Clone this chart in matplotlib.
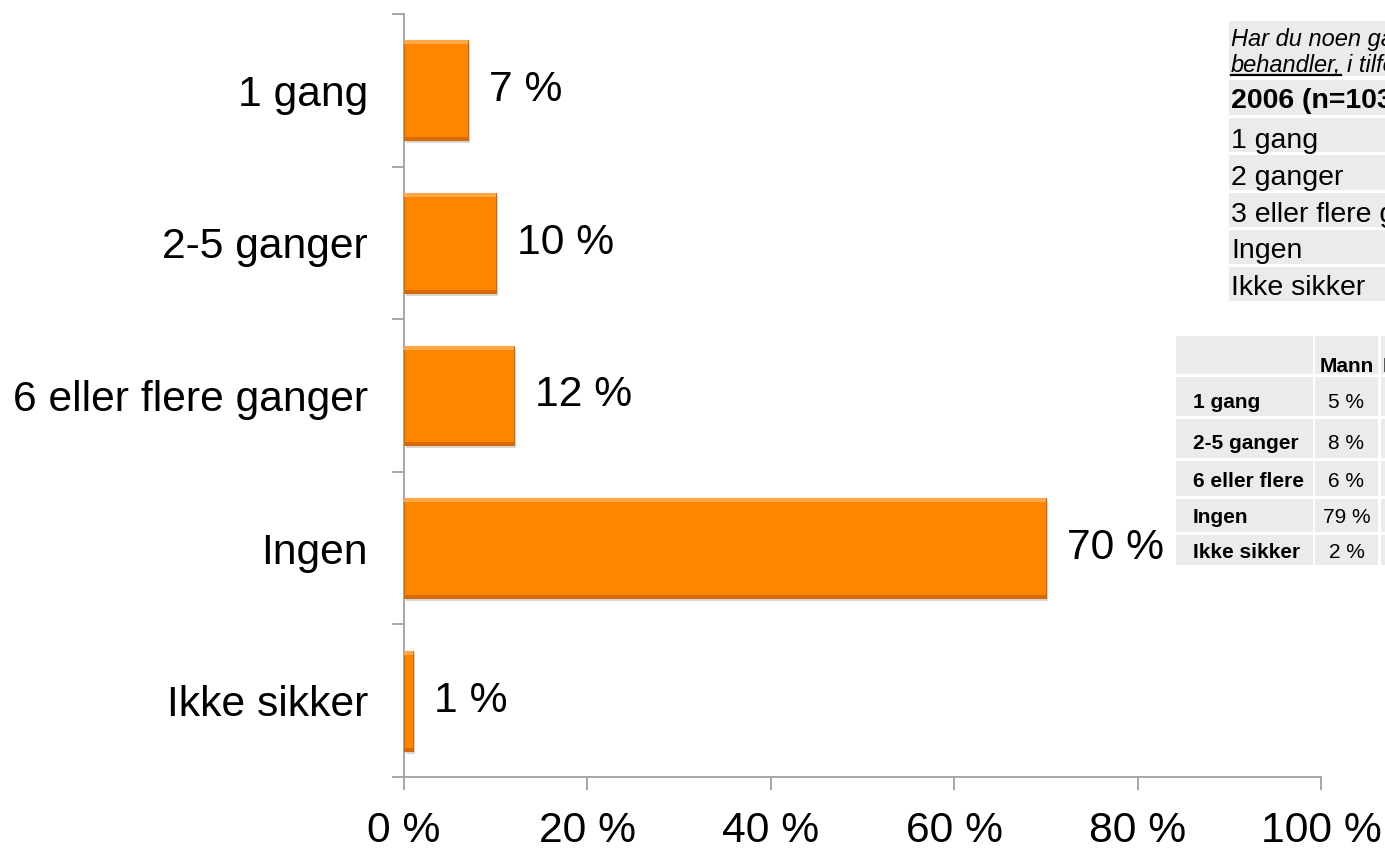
import matplotlib
matplotlib.use("Agg")
import matplotlib.pyplot as plt
from matplotlib.patches import Rectangle

# ---- data ----
categories = ["1 gang", "2-5 ganger", "6 eller flere ganger", "Ingen", "Ikke sikker"]
values = [7, 10, 12, 70, 1]
xticks = [0, 20, 40, 60, 80, 100]
xticklabels = ["0 %", "20 %", "40 %", "60 %", "80 %", "100 %"]

table1_title = ["Har du noen gang", "behandler,", "i tilfelle"]
table1_header = "2006 (n=1032)"
table1_rows = ["1 gang", "2 ganger", "3 eller flere ganger", "Ingen", "Ikke sikker"]

table2_cols = ["", "Mann", "Kvinne"]
table2_rows = ["1 gang", "2-5 ganger", "6 eller flere", "Ingen", "Ikke sikker"]
table2_mann = ["5 %", "8 %", "6 %", "79 %", "2 %"]

W, H = 1385, 849
plt.rcParams['font.family'] = ['Liberation Sans', 'DejaVu Sans']
fig = plt.figure(figsize=(W / 100, H / 100), dpi=100)
renderer = fig.canvas.get_renderer()

def fx(x):
    return x / W

def fy(y):
    return 1 - y / H

ax = fig.add_axes([fx(404), fy(777), (1321 - 404) / W, (777 - 14) / H])
ypos = list(range(len(categories)))
bar_h = 0.655
px_y = bar_h / 100.0  # data units per pixel (approx, bar is ~100 px tall)
bars = ax.barh(ypos, values, height=bar_h, color="#FF8500", edgecolor="#C96A10",
               linewidth=0.8, zorder=3)
for b in bars:
    x0, y0 = b.get_x(), b.get_y()
    w, h = b.get_width(), b.get_height()
    # ylim inverted: y0 is the visual top
    ax.add_patch(Rectangle((x0, y0), w, 4 * px_y, color="#FFA848", lw=0, zorder=4))
    ax.add_patch(Rectangle((x0, y0 + h - 3 * px_y), w, 3 * px_y, color="#D96A00", lw=0, zorder=4))
    # soft shadow
    ax.add_patch(Rectangle((x0 + 0.25, y0 + 3 * px_y), w, h, color="#D8D8D8", lw=0, zorder=2))

lab_fs = 30.7
for i, v in enumerate(values):
    ax.annotate(f"{v} %", xy=(v, i), xytext=(15, 0), textcoords="offset points",
                va="center", ha="left", fontsize=lab_fs, color="black")

ax.set_xlim(0, 100)
ax.set_ylim(len(categories) - 0.5, -0.5)
ax.set_xticks(xticks)
ax.set_xticklabels(xticklabels, fontsize=lab_fs)
ax.set_yticks([i - 0.5 for i in range(len(categories) + 1)])
ax.set_yticklabels([])
ax.set_yticks(ypos, minor=True)
ax.set_yticklabels(categories, minor=True, fontsize=lab_fs)
spine_c = "#A6A6A6"
ax.tick_params(axis="y", which="major", length=9, width=1.4, color=spine_c, direction="out")
ax.tick_params(axis="y", which="minor", length=0, pad=26)
ax.tick_params(axis="x", which="major", length=9.5, width=1.4, color=spine_c, direction="out", pad=15)
for s in ["top", "right"]:
    ax.spines[s].set_visible(False)
for s in ["left", "bottom"]:
    ax.spines[s].set_color(spine_c)
    ax.spines[s].set_linewidth(1.4)

cell_c = "#EBEBEB"

def cell(x0, y0, x1, y1):
    fig.patches.append(Rectangle((fx(x0), fy(y1)), fx(x1) - fx(x0), fy(y0) - fy(y1),
                                 transform=fig.transFigure, color=cell_c, lw=0, zorder=1))

# ---- table 1 ----
t1_x0, t1_x1 = 1229, 1500
cell(t1_x0, 21, t1_x1, 76)
fig.text(fx(1231), fy(46), table1_title[0], fontsize=17, style="italic", va="baseline")
t_beh = fig.text(fx(1231), fy(72), table1_title[1], fontsize=17, style="italic", va="baseline")
bb = t_beh.get_window_extent(renderer)
fig.text(fx(bb.x1 + 6), fy(72), table1_title[2], fontsize=17, style="italic", va="baseline")
fig.lines.append(plt.Line2D([fx(1231), fx(bb.x1)], [fy(75), fy(75)], transform=fig.transFigure,
                            color="black", lw=1.6))
t1_rows_y = [(80, 115), (118, 152), (155, 190), (193, 227), (230, 264), (267, 301)]
t1_base = [108, 148, 185, 222, 258, 295]
t1_texts = [table1_header] + table1_rows
for k, ((a, b), base, txt) in enumerate(zip(t1_rows_y, t1_base, t1_texts)):
    cell(t1_x0, a, t1_x1, b)
    fig.text(fx(1231), fy(base), txt, fontsize=20.5, va="baseline",
             fontweight="bold" if k == 0 else "normal")

# ---- table 2 ----
cols_x = [(1176, 1313), (1315, 1378), (1381, 1460)]
rows_y = [(336, 374), (377, 416), (419, 458), (461, 496), (499, 532), (535, 565)]
for (a, b) in rows_y:
    for (c0, c1) in cols_x:
        cell(c0, a, c1, b)
fig.text(fx((1315 + 1378) / 2), fy(372), table2_cols[1], fontsize=15, fontweight="bold",
         ha="center", va="baseline")
fig.text(fx(1383), fy(372), table2_cols[2], fontsize=15, fontweight="bold",
         ha="left", va="baseline")
t2_base = [408, 449, 487, 523, 558]
for base, lab, val in zip(t2_base, table2_rows, table2_mann):
    fig.text(fx(1193), fy(base), lab, fontsize=15, fontweight="bold", va="baseline")
    fig.text(fx((1315 + 1378) / 2), fy(base), val, fontsize=15, ha="center", va="baseline")

fig.savefig("out.png", dpi=100)
